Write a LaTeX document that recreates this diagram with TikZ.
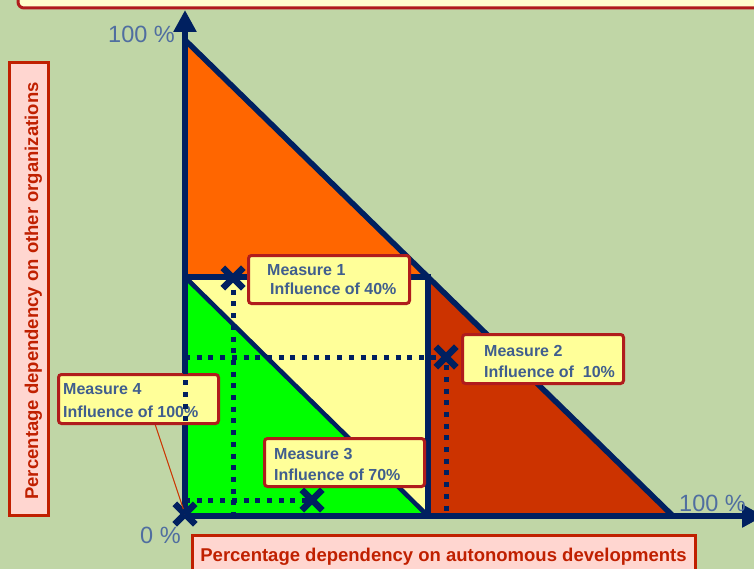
\documentclass[tikz,border=0pt]{standalone}
\usepackage{fontspec}
\setmainfont{Liberation Sans}
\usetikzlibrary{arrows.meta,shapes.misc}

\definecolor{bg}{RGB}{192,214,166}
\definecolor{navy}{RGB}{0,32,96}
\definecolor{orangefill}{RGB}{255,102,0}
\definecolor{rustfill}{RGB}{204,51,0}
\definecolor{paleyellow}{RGB}{255,255,153}
\definecolor{limefill}{RGB}{0,255,0}
\definecolor{boxred}{RGB}{176,28,28}
\definecolor{labelred}{RGB}{192,32,0}
\definecolor{labelpink}{RGB}{255,214,208}
\definecolor{measuretext}{RGB}{64,94,142}
\definecolor{ticktext}{RGB}{80,110,160}
\definecolor{topfill}{RGB}{255,255,204}

\tikzset{
  outline/.style={draw=navy, line width=5.5pt, line join=miter},
  axisline/.style={draw=navy, line width=5.5pt, -{Triangle[length=22pt,width=22pt]}},
  dotline/.style={draw=navy, line width=5pt, dash pattern=on 5pt off 6.7pt},
  marker/.style={cross out, draw=navy, line width=6.5pt, minimum size=14pt, inner sep=0pt},
  measurebox/.style={draw=boxred, fill=paleyellow, line width=3pt, rounded corners=3pt},
  measuretxt/.style={anchor=base west, inner sep=0pt, text=measuretext,
    font=\fontsize{16}{18}\selectfont\bfseries},
  ticklabel/.style={anchor=base west, inner sep=0pt, text=ticktext,
    font=\fontsize{23.5}{26}\selectfont},
  axislabelbox/.style={draw=labelred, fill=labelpink, line width=3pt},
  axislabeltxt/.style={anchor=base, inner sep=0pt, text=labelred,
    font=\fontsize{18.5}{21}\selectfont\bfseries},
}

\begin{document}
\begin{tikzpicture}[x=1pt, y=-1pt]
  \useasboundingbox (0,0) rectangle (754,569);
  \fill[bg] (0,0) rectangle (754,569);

  % title strip along the top edge
  \draw[draw=boxred, fill=topfill, line width=3pt, rounded corners=6pt]
    (18,-40) rectangle (790,8);

  % coloured regions
  \fill[orangefill] (185,40) -- (428,277) -- (185,277) -- cycle;
  \fill[paleyellow] (185,277) rectangle (428,516);
  \fill[limefill] (185,277) -- (428,516) -- (185,516) -- cycle;
  \fill[rustfill] (428,277) -- (673,516) -- (428,516) -- cycle;

  % region outlines
  \draw[outline] (185,40) -- (673,516);
  \draw[outline] (185,277) -- (428,277) -- (428,516);
  \draw[outline, line width=4.5pt] (185,277) -- (428,516);

  % axes
  \coordinate (origin) at (185,516);
  \coordinate (ytip) at (185,10);
  \coordinate (xtip) at (764,516);
  \draw[axisline] (origin) -- (ytip);
  \draw[axisline] (origin) -- (xtip);

  % markers
  \node[marker] (x1) at (233,278) {};
  \node[marker] (x2) at (446,357) {};
  \node[marker] (x3) at (312,500) {};
  \node[marker] (x4) at (185,514) {};

  % guide lines to the axes
  \coordinate (x1foot) at (233,515);
  \coordinate (x2left) at (185,357);
  \coordinate (x2foot) at (446,515);
  \coordinate (x3left) at (185,500);
  \draw[dotline] (x1.center) -- (x1foot);
  \draw[dotline] (x2left) -- (x2.center) -- (x2foot);
  \draw[dotline] (x3left) -- (x3.center);

  % measure boxes
  \node[measurebox, minimum width=161pt, minimum height=48pt, anchor=north west] (m1) at (247,254) {};
  \node[measuretxt] (m1a) at (267,275) {Measure 1};
  \node[measuretxt] (m1b) at (270,294) {Influence of 40\%};

  \node[measurebox, minimum width=161pt, minimum height=49pt, anchor=north west] (m2) at (461,333) {};
  \node[measuretxt] (m2a) at (484,356) {Measure 2};
  \node[measuretxt] (m2b) at (484,377) {Influence of \ 10\%};

  \node[measurebox, minimum width=160pt, minimum height=48pt, anchor=north west] (m3) at (263,437) {};
  \node[measuretxt] (m3a) at (274,459) {Measure 3};
  \node[measuretxt] (m3b) at (274,480) {Influence of 70\%};

  \coordinate (m4tail) at (154,421);
  \draw[draw=rustfill, line width=1pt] (m4tail) -- (x4.center);
  \node[measurebox, minimum width=160pt, minimum height=49pt, anchor=north west] (m4) at (57,373) {};
  \node[measuretxt] (m4a) at (63,394) {Measure 4};
  \node[measuretxt] (m4b) at (63,417) {Influence of 100\%};

  % guide along the vertical axis, over the box
  \coordinate (x4top) at (185,357);
  \draw[dotline] (x4top) -- (x4.center);

  % tick labels
  \node[ticklabel] (ytop) at (108,43) {100 \%};
  \node[ticklabel] (zero) at (140,543) {0 \%};
  \node[ticklabel] (xend) at (679,511) {100 \%};

  % axis titles
  \draw[axislabelbox] (192,535) rectangle (695,580);
  \node[axislabeltxt] (xtitle) at (443.5,561) {Percentage dependency on autonomous developments};
  \draw[axislabelbox] (9,63) rectangle (48,515);
  \node[axislabeltxt, rotate=90] (ytitle) at (38,291) {Percentage dependency on other organizations};
\end{tikzpicture}
\end{document}
